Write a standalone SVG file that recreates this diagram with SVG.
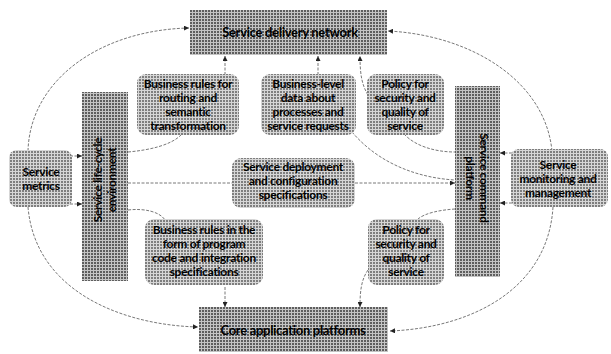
<svg xmlns="http://www.w3.org/2000/svg" width="611" height="354" viewBox="0 0 611 354">
<defs>
<pattern id="pd" width="3" height="3" patternUnits="userSpaceOnUse">
<rect width="3" height="3" fill="#5e5e5e"/>
<rect width="3" height="1" fill="#c4c4c4"/>
<rect width="1" height="3" fill="#c4c4c4"/>
</pattern>
<pattern id="pl" width="3" height="3" patternUnits="userSpaceOnUse">
<rect width="3" height="3" fill="#7e7e7e"/>
<rect width="3" height="1" fill="#d6d6d6"/>
<rect width="1" height="3" fill="#d6d6d6"/>
</pattern>
<marker id="ah" viewBox="0 0 6 6" refX="6" refY="3" markerWidth="5" markerHeight="5" markerUnits="userSpaceOnUse" orient="auto">
<path d="M0,0 L6,3 L0,6 z" fill="#222"/>
</marker>
<style>
.dark{fill:url(#pd);}
.light{fill:url(#pl);}
text{font-family:Lato,"Liberation Sans",sans-serif;font-weight:bold;font-size:12px;fill:#000;text-anchor:middle;letter-spacing:-0.3px;}
.big{font-size:13px;}
.c{fill:none;stroke:#555;stroke-width:0.8;stroke-dasharray:3 1.5;}
.a{marker-end:url(#ah);}
</style>
</defs>
<rect width="611" height="354" fill="#fff"/>

<g id="connectors">
<path class="c a" d="M28,151 C30,80 100,30 189,28"/>
<path class="c a" d="M28,207 C35,290 120,325 198,327"/>
<path class="c a" d="M552,151 C545,80 470,35 388,31"/>
<path class="c a" d="M553,207 C548,290 470,328 390,331"/>
<path class="c a" d="M70,156 H82"/>
<path class="c a" d="M70,204 H82"/>
<path class="c a" d="M512,153 H500"/>
<path class="c a" d="M512,203 H500"/>
<path class="c" d="M128,152 C150,150 172,145 182,134"/>
<path class="c a" d="M225,75 V56"/>
<path class="c a" d="M318,75 V56"/>
<path class="c" d="M352,132 C380,165 420,178 455,180"/>
<path class="c a" d="M368,95 C362,85 360,75 360,56"/>
<path class="c" d="M404,134 C415,146 435,152 455,152"/>
<path class="c" d="M128,183 H232"/>
<path class="c a" d="M355,183 H455"/>
<path class="c" d="M128,210 C145,208 160,212 165,220"/>
<path class="c a" d="M225,287 V307"/>
<path class="c" d="M455,209 C440,210 425,213 418,219"/>
<path class="c a" d="M368,270 C361,280 360,292 360,307"/>
</g>

<g id="sdn">
<rect class="dark" x="190" y="10" width="197" height="45"/>
<text class="big" x="290" y="37">Service delivery network</text>
</g>

<g id="core">
<rect class="dark" x="199" y="307" width="189" height="45"/>
<text class="big" x="293" y="335">Core application platforms</text>
</g>

<g id="lifecycle">
<rect class="dark" x="82" y="92" width="46" height="189"/>
<text transform="translate(105,180) rotate(-90)"><tspan x="0" y="-3">Service life-cycle</tspan><tspan x="0" y="11">environment</tspan></text>
</g>

<g id="command">
<rect class="dark" x="455" y="86" width="45" height="191"/>
<text transform="translate(477,178) rotate(90)"><tspan x="0" y="-3">Service command</tspan><tspan x="0" y="11">platform</tspan></text>
</g>

<g id="metrics">
<rect class="light" x="9" y="150" width="63" height="57" rx="8"/>
<text x="41" y="176">Service</text>
<text x="41" y="190">metrics</text>
</g>

<g id="monitoring">
<rect class="light" x="511" y="149" width="97" height="58" rx="8"/>
<text x="558" y="169">Service</text>
<text x="558" y="183">monitoring and</text>
<text x="558" y="197">management</text>
</g>

<g id="routing">
<rect class="light" x="137" y="74" width="102" height="61" rx="9"/>
<text x="188" y="88">Business rules for</text>
<text x="188" y="102">routing and</text>
<text x="188" y="116">semantic</text>
<text x="188" y="130">transformation</text>
</g>

<g id="bizdata">
<rect class="light" x="261" y="74" width="95" height="61" rx="9"/>
<text x="308" y="88">Business-level</text>
<text x="308" y="102">data about</text>
<text x="308" y="116">processes and</text>
<text x="308" y="130">service requests</text>
</g>

<g id="policytop">
<rect class="light" x="367" y="74" width="77" height="61" rx="9"/>
<text x="405" y="88">Policy for</text>
<text x="405" y="102">security and</text>
<text x="405" y="116">quality of</text>
<text x="405" y="130">service</text>
</g>

<g id="deploy">
<rect class="light" x="232" y="158" width="123" height="50" rx="9"/>
<text x="293" y="171">Service deployment</text>
<text x="293" y="185">and configuration</text>
<text x="293" y="199">specifications</text>
</g>

<g id="bizrules">
<rect class="light" x="145" y="219" width="118" height="66" rx="9"/>
<text x="204" y="234">Business rules in the</text>
<text x="204" y="248">form of program</text>
<text x="204" y="262">code and integration</text>
<text x="204" y="276">specifications</text>
</g>

<g id="policybot">
<rect class="light" x="368" y="219" width="76" height="66" rx="9"/>
<text x="406" y="234">Policy for</text>
<text x="406" y="248">security and</text>
<text x="406" y="262">quality of</text>
<text x="406" y="276">service</text>
</g>
</svg>
